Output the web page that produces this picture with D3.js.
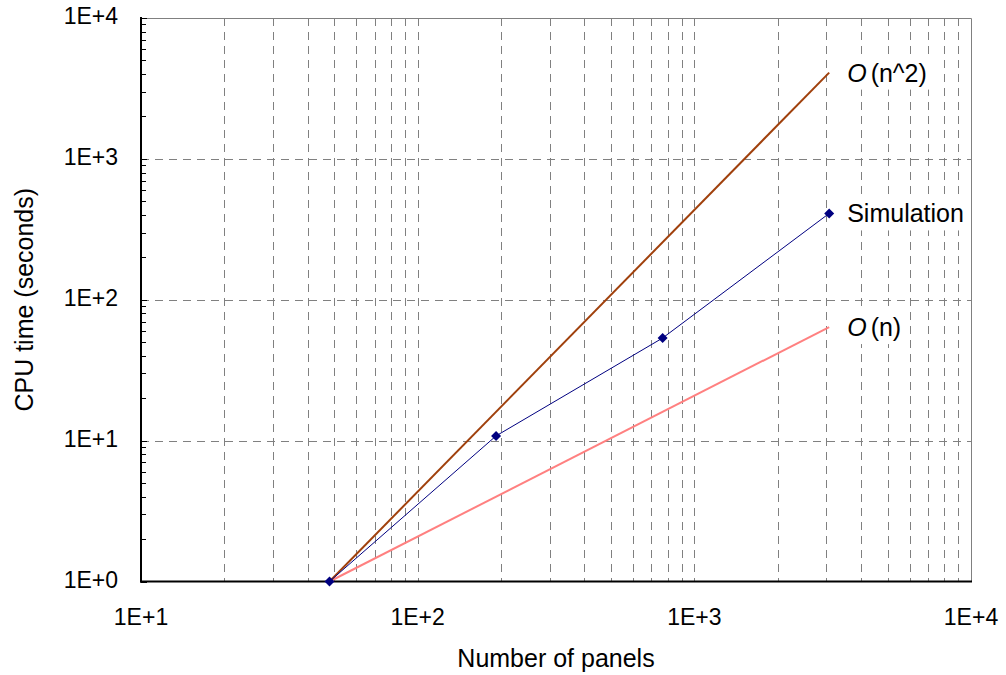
<!DOCTYPE html>
<html><head><meta charset="utf-8">
<script src="https://cdn.jsdelivr.net/npm/d3@7"></script>
<style>
body{margin:0;background:#fff;}
text{font-family:"Liberation Sans",Arial,sans-serif;fill:#000;}
</style></head>
<body><svg id="c" width="1006" height="675"></svg>
<script>
// Data
const panels = [48, 192, 768, 3072];
const simulation = [1, 10.8, 53.5, 410];
const refEnds = [48, 3072];
const orderN2 = [1, 4096];
const orderN = [1, 64];
const xTicks = [10, 100, 1000, 10000];
const yTicks = [1, 10, 100, 1000, 10000];
const tickLabels = ["1E+0", "1E+1", "1E+2", "1E+3", "1E+4"];
const xTickLabels = ["1E+1", "1E+2", "1E+3", "1E+4"];

const svg = d3.select("#c");
const L = 141, R = 971, T = 18, B = 581.5;
const x = d3.scaleLog().domain([10, 10000]).range([L, R]);
const y = d3.scaleLog().domain([1, 10000]).range([B, T]);

// minor values
const minors = [];
[10, 100, 1000].forEach(d => { for (let k = 1; k <= 9; k++) minors.push(d * k); });

const grid = svg.append("g").attr("stroke", "#808080").attr("stroke-width", 1).attr("stroke-dasharray", "8,6").attr("fill", "none");
minors.filter(v => v > 10).forEach(v => {
  const xx = Math.round(x(v)) + 0.5;
  grid.append("line").attr("x1", xx).attr("x2", xx).attr("y1", T).attr("y2", B);
});
[10, 100, 1000].forEach(v => {
  const yy = Math.round(y(v)) + 0.5;
  grid.append("line").attr("x1", L).attr("x2", R).attr("y1", yy).attr("y2", yy);
});

// border top/right
svg.append("path").attr("d", `M${L},${T + 0.5}H${R + 0.5}V${B}`).attr("stroke", "#808080").attr("fill", "none").attr("stroke-width", 1);

// left axis minor ticks (inside)
const yminors = [];
[1, 10, 100, 1000].forEach(d => { for (let k = 1; k <= 9; k++) yminors.push(d * k); });
yminors.push(10000);
svg.append("g").selectAll("line").data(yminors).join("line")
  .attr("x1", L).attr("x2", d => yTicks.includes(d) ? L + 6 : L + 5)
  .attr("y1", d => Math.round(y(d)) + 0.5).attr("y2", d => Math.round(y(d)) + 0.5)
  .attr("stroke", "#000").attr("stroke-width", 1);

// axes lines
svg.append("line").attr("x1", L).attr("x2", L).attr("y1", T - 1).attr("y2", B + 1).attr("stroke", "#000").attr("stroke-width", 2);
svg.append("line").attr("x1", L - 1).attr("x2", R + 1).attr("y1", B).attr("y2", B).attr("stroke", "#000").attr("stroke-width", 2);

// tick labels
svg.append("g").selectAll("text").data(yTicks).join("text")
  .attr("x", 118).attr("y", d => y(d) - 2).attr("text-anchor", "end").attr("dominant-baseline", "central")
  .attr("font-size", 23).text((d, i) => tickLabels[i]);
svg.append("g").selectAll("text").data(xTicks).join("text")
  .attr("x", d => x(d)).attr("y", 617).attr("text-anchor", "middle").attr("dominant-baseline", "central")
  .attr("font-size", 23).text((d, i) => xTickLabels[i]);

// axis titles
svg.append("text").attr("x", (L + R) / 2).attr("y", 658).attr("text-anchor", "middle").attr("dominant-baseline", "central")
  .attr("font-size", 25).text("Number of panels");
svg.append("text").attr("transform", `translate(24,${(T + B) / 2}) rotate(-90)`).attr("text-anchor", "middle").attr("dominant-baseline", "central")
  .attr("font-size", 25).text("CPU time (seconds)");

// series
const line = d3.line().x(d => x(d[0])).y(d => y(d[1]));
svg.append("path").attr("d", line(refEnds.map((n, i) => [n, orderN[i]]))).attr("stroke", "#ff8080").attr("stroke-width", 2).attr("fill", "none");
svg.append("path").attr("d", line(refEnds.map((n, i) => [n, orderN2[i]]))).attr("stroke", "#a0400c").attr("stroke-width", 2).attr("fill", "none");
svg.append("path").attr("d", line(panels.map((n, i) => [n, simulation[i]]))).attr("stroke", "#000080").attr("stroke-width", 1).attr("fill", "none");
svg.append("g").selectAll("path").data(panels).join("path")
  .attr("transform", (d, i) => `translate(${x(d)},${y(simulation[i])})`)
  .attr("d", "M0,-5L5,0L0,5L-5,0Z").attr("fill", "#000080");

// labels with white background
function label(xv, yv, parts) {
  const g = svg.append("g");
  const rect = g.append("rect").attr("fill", "#fff");
  const t = g.append("text").attr("x", x(xv) + 18).attr("y", y(yv)).attr("dominant-baseline", "central").attr("font-size", 25);
  parts.forEach(p => {
    const s = t.append("tspan").text(p.t);
    if (p.i) s.attr("font-style", "italic");
    if (p.dx) s.attr("dx", p.dx);
  });
  const bb = t.node().getBBox();
  rect.attr("x", bb.x - 6).attr("y", bb.y - 3).attr("width", bb.width + 12).attr("height", bb.height + 6);
}
const last = panels.length - 1;
label(refEnds[1], orderN2[1], [{t: "O", i: true}, {t: "(n^2)", dx: 4}]);
label(panels[last], simulation[last], [{t: "Simulation"}]);
label(refEnds[1], orderN[1], [{t: "O", i: true}, {t: "(n)", dx: 4}]);
</script></body></html>
